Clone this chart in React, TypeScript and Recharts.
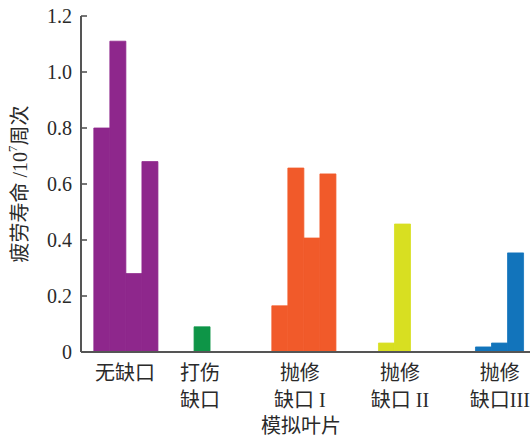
import React from 'react';
import { BarChart, Bar, XAxis, YAxis, Cell } from 'recharts';

// Categories (| marks a line break in the tick label)
const categories = ['无缺口', '打伤|缺口', '抛修|缺口 I', '抛修|缺口 II', '抛修|缺口III'];
// Fatigue life values (10^7 cycles) per group
const noNotch = [0.8, 1.11, 0.28, 0.68];
const impactNotch = [0.09];
const polishNotchI = [0.165, 0.657, 0.407, 0.636];
const polishNotchII = [0.032, 0.457];
const polishNotchIII = [0.018, 0.032, 0.354];
const groupColors = ['#8E278C', '#0E9547', '#F15A2A', '#D8DF21', '#1274BB'];
// position of each group's first bar slot on the x scale (bar-width units)
const groupStart = [0.8, 7.05, 11.9, 18.55, 24.6];
// positions of category labels on the x scale
const labelPos = [2.74, 7.42, 13.65, 19.89, 26.12];
const yTicks = [0, 0.2, 0.4, 0.6, 0.8, 1.0, 1.2];

const groups = [noNotch, impactNotch, polishNotchI, polishNotchII, polishNotchIII];
const data: { x: number; value: number; color: string }[] = [];
groups.forEach((vals, g) => {
  vals.forEach((v, i) => {
    data.push({ x: groupStart[g] + i + 0.5, value: v, color: groupColors[g] });
  });
});

const FONT = "'Liberation Serif', 'Noto Sans CJK SC', serif";
const TEXT = '#2a2a2a';
const AXIS = '#555';

const XTick = (props: any) => {
  const { x, y, payload } = props;
  const idx = labelPos.indexOf(payload.value);
  if (idx < 0) return null;
  const lines = categories[idx].split('|');
  return (
    <g>
      {lines.map((l, i) => (
        <text key={i} x={x} y={y + 28 + i * 27} textAnchor="middle" fontSize={20} fontFamily={FONT} fill={TEXT}>
          {l}
        </text>
      ))}
    </g>
  );
};

const YTick = (props: any) => {
  const { x, y, payload } = props;
  const v = payload.value as number;
  const label = v === 0 ? '0' : v.toFixed(1);
  return (
    <g>
      <line x1={x + 9} x2={x + 15} y1={y} y2={y} stroke={AXIS} strokeWidth={1.6} />
      <text x={x} y={y} dy="0.34em" textAnchor="end" fontSize={20} fontFamily={FONT} fill={TEXT}>
        {label}
      </text>
    </g>
  );
};

export default function App() {
  return (
    <div style={{ position: 'absolute', left: 0, top: 0, background: '#fff' }}>
      <BarChart width={530} height={437} data={data} margin={{ top: 16, right: 0, bottom: 0, left: 0 }}>
        <XAxis
          dataKey="x"
          type="number"
          domain={[0, 28]}
          ticks={labelPos}
          interval={0}
          tick={<XTick />}
          tickLine={false}
          tickSize={0}
          tickMargin={0}
          height={85}
          axisLine={{ stroke: AXIS, strokeWidth: 2 }}
          allowDataOverflow
        />
        <YAxis
          type="number"
          domain={[0, 1.2]}
          ticks={yTicks}
          interval={0}
          width={81}
          tick={<YTick />}
          tickLine={false}
          tickSize={0}
          tickMargin={9}
          axisLine={{ stroke: AXIS, strokeWidth: 2 }}
        />
        <Bar dataKey="value" barSize={16} isAnimationActive={false}>
          {data.map((d, i) => (
            <Cell key={i} fill={d.color} stroke={d.color} strokeWidth={0.8} />
          ))}
        </Bar>
        <text
          x={20}
          y={184}
          transform="rotate(-90, 20, 184)"
          textAnchor="middle"
          dominantBaseline="central"
          fontSize={20}
          fontFamily={FONT}
          fill={TEXT}
        >
          疲劳寿命 /10
          <tspan dy={-8} fontSize={13}>7</tspan>
          <tspan dy={8}>周次</tspan>
        </text>
        <text x={301} y={433} textAnchor="middle" fontSize={20} fontFamily={FONT} fill={TEXT}>
          模拟叶片
        </text>
      </BarChart>
    </div>
  );
}
